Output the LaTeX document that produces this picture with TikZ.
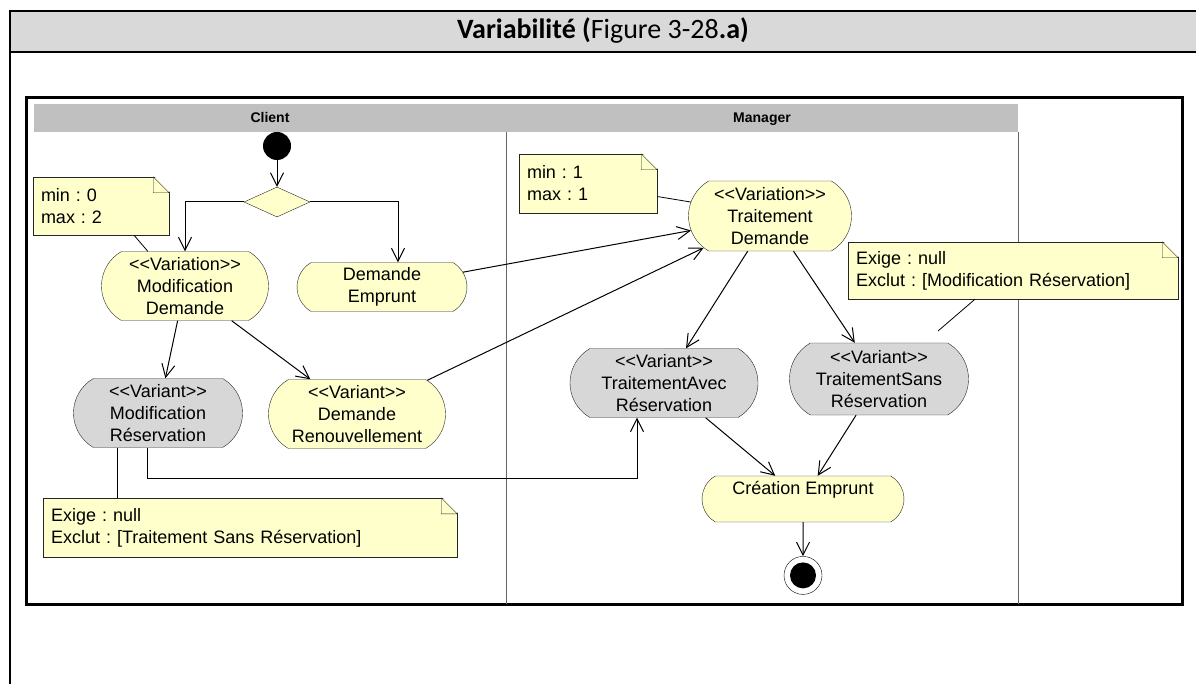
\documentclass[tikz,border=0pt]{standalone}
\usepackage{fontspec}
\setmainfont{Liberation Sans}[Ligatures=TeXOff]
\newfontfamily\titlefont{Carlito}
\usepackage{tikz}
\usetikzlibrary{shapes.geometric, shapes.misc, arrows.meta, positioning}
\frenchspacing

\definecolor{actfill}{RGB}{255,255,204}
\definecolor{varfill}{RGB}{215,215,215}
\definecolor{lanegray}{RGB}{192,192,192}
\definecolor{titlegray}{RGB}{217,217,217}

\begin{document}
\begin{tikzpicture}[
    x=1pt, y=-1pt,
    font=\fontsize{18pt}{22pt}\selectfont,
    action/.style={rounded rectangle, rounded rectangle arc length=120, draw=black!85, fill=actfill, align=center, inner xsep=4pt, inner ysep=2pt},
    variant/.style={action, fill=varfill},
    note/.style={rectangle, draw=black!85, fill=actfill, align=left, inner xsep=8pt, inner ysep=2pt},
    startnode/.style={circle, fill=black, minimum size=28pt, inner sep=0pt},
    endnode/.style={circle, draw=black, fill=white, minimum size=38pt, inner sep=0pt, path picture={\fill[black] (path picture bounding box.center) circle (13pt);}},
    decision/.style={diamond, draw=black!85, fill=actfill, minimum width=66pt, minimum height=30pt, inner sep=0pt, aspect=2.2},
    arrow/.style={-{Straight Barb[length=13pt, width=13pt]}, line width=1pt},
    noteline/.style={line width=0.8pt},
    lanehead/.style={font=\fontsize{14pt}{16pt}\selectfont\bfseries, text height=10pt, text depth=3pt}
]
    \useasboundingbox (0,0) rectangle (1196,684);

    % table cell with its title
    \fill[titlegray] (10,11) rectangle (1196,52);
    \draw[line width=2.5pt] (1196,11) -- (10,11) -- (10,684);
    \draw[line width=2.5pt] (10,52) -- (1196,52);
    \node[font=\titlefont\fontsize{28pt}{30pt}\selectfont] (title) at (603,31) {\textbf{Variabilité (}Figure 3-28\textbf{.a)}};

    % diagram frame and swimlanes
    \draw[line width=3pt] (26,98) rectangle (1182,604);
    \fill[lanegray] (34,104) rectangle (1018,132);
    \draw[black!60, line width=0.8pt] (506,132) -- (506,604) (1018,132) -- (1018,604);
    \node[lanehead] (client) at (270,119) {Client};
    \node[lanehead] (manager) at (762,119) {Manager};

    % activities
    \node[startnode] (start) at (277,146) {};
    \node[decision] (choice) at (277,202) {};
    \node[action, minimum width=175pt, minimum height=69pt] (moddem) at (185,286) {<<Variation>>\\Modification\\Demande};
    \node[action, minimum width=178pt, minimum height=49pt] (dememp) at (382,287) {Demande\\Emprunt};
    \node[action, minimum width=171pt, minimum height=70pt] (traitdem) at (770,216) {<<Variation>>\\Traitement\\Demande};
    \node[variant, minimum width=177pt, minimum height=69pt] (modres) at (158,413) {<<Variant>>\\Modification\\Réservation};
    \node[action, minimum width=185pt, minimum height=69pt] (demren) at (357,414) {<<Variant>>\\Demande\\Renouvellement};
    \node[variant, minimum width=196pt, minimum height=69pt] (avecres) at (664,383) {<<Variant>>\\TraitementAvec\\Réservation};
    \node[variant, minimum width=187pt, minimum height=72pt] (sansres) at (879,379) {<<Variant>>\\TraitementSans\\Réservation};
    \node[action, minimum width=210pt, minimum height=46pt] (creation) at (803,499) {Création Emprunt\\\mbox{}};
    \node[endnode, below=34pt of creation] (end) {};

    % notes
    \node[note, text width=120pt, minimum height=58pt] (note1) at (101,206) {min : 0\\max : 2};
    \node[note, text width=122pt, minimum height=59pt] (note2) at (588,183.5) {min : 1\\max : 1};
    \node[note, text width=314pt, minimum height=57pt] (note3) at (1013,270.5) {Exige : null\\Exclut : [Modification Réservation]};
    \node[note, text width=398pt, minimum height=59pt] (note4) at (250,527.5) {Exige : null\\Exclut : [Traitement Sans Réservation]};
    \foreach \n in {note1,note2,note3,note4}{
        \fill[white] ([xshift=-16pt, yshift=1.5pt]\n.north east) -- ([xshift=1.5pt, yshift=1.5pt]\n.north east) -- ([xshift=1.5pt, yshift=-16pt]\n.north east) -- cycle;
        \draw[black!85, fill=actfill] ([xshift=-16pt]\n.north east) -- ([yshift=-16pt]\n.north east) -- ([xshift=-16pt, yshift=-16pt]\n.north east) -- cycle;
    }

    % flows
    \draw[arrow] (start) -- (choice);
    \draw[arrow] (choice.west) -| (moddem.north);
    \draw[arrow] (choice.east) -| ([xshift=16pt]dememp.north);
    \draw[arrow] (dememp) -- (traitdem);
    \draw[arrow] (moddem) -- (modres);
    \draw[arrow] (moddem) -- (demren);
    \draw[arrow] (demren) -- (traitdem);
    \draw[arrow] (traitdem) -- (avecres);
    \draw[arrow] (traitdem) -- (sansres);
    \draw[arrow] (avecres) -- (creation);
    \draw[arrow] (sansres) -- (creation);
    \draw[arrow] (creation) -- (end);
    \coordinate (bend) at (637,478);
    \draw[arrow] ([xshift=-11pt]modres.south) |- (bend) -- (bend |- avecres.south);

    % note links
    \draw[noteline] ([xshift=33pt]note1.south) -- (moddem.137);
    \draw[noteline] ([yshift=-13pt]note2.east) -- (traitdem.170);
    \coordinate (tip3) at (938,331);
    \draw[noteline] ([xshift=-38pt]note3.south) -- (tip3);
    \draw[noteline] ([xshift=-41pt]modres.south) -- ([xshift=-41pt]modres.south |- note4.north);
\end{tikzpicture}
\end{document}
